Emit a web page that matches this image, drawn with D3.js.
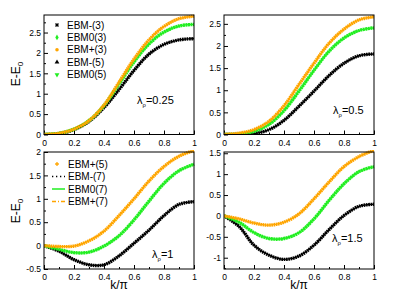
<!DOCTYPE html>
<html>
<head>
  <meta charset="utf-8">
  <title>EBM dispersion</title>
  <style>
    body { margin: 0; background: #fff; }
    svg { display: block; }
    text { font-family: "Liberation Sans", Arial, sans-serif; fill: #000; }
    .tick text { font-size: 8.5px; }
    .tick line { stroke: #000; }
  </style>
</head>
<body>
  <script src="https://d3js.org/d3.v7.min.js"></script>
  <script>
    // k/pi grid
    const kVals = [0, 0.1, 0.2, 0.3, 0.4, 0.5, 0.6, 0.7, 0.8, 0.9, 1.0];
    const xTicks = [0, 0.2, 0.4, 0.6, 0.8, 1];

    // lambda = 0.25
    const p1Plus  = [0, 0.03, 0.13, 0.34, 0.72, 1.28, 1.85, 2.32, 2.65, 2.84, 2.90];
    const p1Zero  = [0, 0.03, 0.13, 0.34, 0.71, 1.24, 1.78, 2.22, 2.51, 2.66, 2.70];
    const p1Minus = [0, 0.02, 0.12, 0.32, 0.66, 1.10, 1.57, 1.97, 2.21, 2.32, 2.35];
    // lambda = 0.5
    const p2Plus  = [0, 0.03, 0.11, 0.30, 0.65, 1.13, 1.61, 2.06, 2.38, 2.59, 2.66];
    const p2Zero  = [0, 0.01, 0.07, 0.23, 0.54, 0.98, 1.45, 1.88, 2.18, 2.35, 2.41];
    const p2Minus = [0, 0.00, 0.02, 0.11, 0.32, 0.64, 0.98, 1.33, 1.61, 1.78, 1.82];
    // lambda = 1
    const p3Plus  = [0, -0.02, -0.01, 0.10, 0.31, 0.64, 1.00, 1.38, 1.69, 1.91, 2.03];
    const p3Zero  = [0, -0.08, -0.15, -0.14, -0.01, 0.21, 0.55, 0.95, 1.33, 1.60, 1.74];
    const p3Minus = [0, -0.12, -0.30, -0.41, -0.41, -0.22, 0.05, 0.33, 0.64, 0.88, 0.94];
    // lambda = 1.5
    const p4Plus  = [0, -0.07, -0.17, -0.22, -0.15, 0.05, 0.41, 0.81, 1.18, 1.42, 1.57];
    const p4Zero  = [0, -0.15, -0.40, -0.54, -0.54, -0.40, -0.07, 0.37, 0.77, 1.06, 1.18];
    const p4Minus = [0, -0.25, -0.70, -0.94, -1.04, -0.96, -0.70, -0.33, 0.01, 0.23, 0.28];

    const legendTop = ["EBM-(3)", "EBM0(3)", "EBM+(3)", "EBM-(5)", "EBM0(5)"];
    const legendBottom = ["EBM+(5)", "EBM-(7)", "EBM0(7)", "EBM+(7)"];

    const orange = "#ffa500", green = "#22ee22", black = "#000";

    const svg = d3.select("body").append("svg").attr("width", 411).attr("height", 291);

    const panels = [
      { x0: 44, x1: 194, y0: 15, y1: 134.5, ymin: 0, ymax: 2.93, yTicks: [0, 0.5, 1, 1.5, 2, 2.5],
        plus: p1Plus, zero: p1Zero, minus: p1Minus, lam: "0.25", lx: 137, ly: 104 },
      { x0: 224, x1: 374, y0: 15, y1: 134.5, ymin: 0, ymax: 2.7, yTicks: [0, 0.5, 1, 1.5, 2, 2.5],
        plus: p2Plus, zero: p2Zero, minus: p2Minus, lam: "0.5", lx: 333, ly: 114 },
      { x0: 44, x1: 194, y0: 152, y1: 269, ymin: -0.5, ymax: 2.0, yTicks: [-0.5, 0, 0.5, 1, 1.5, 2],
        plus: p3Plus, zero: p3Zero, minus: p3Minus, lam: "1", lx: 152, ly: 258 },
      { x0: 224, x1: 374, y0: 152, y1: 269, ymin: -1.27, ymax: 1.53, yTicks: [-1, -0.5, 0, 0.5, 1, 1.5],
        plus: p4Plus, zero: p4Zero, minus: p4Minus, lam: "1.5", lx: 332, ly: 242 }
    ];

    const fmt = d => String(+d.toFixed(2));

    panels.forEach(p => {
      const x = d3.scaleLinear().domain([0, 1]).range([p.x0, p.x1]);
      const y = d3.scaleLinear().domain([p.ymin, p.ymax]).range([p.y1, p.y0]);

      const clipId = "clip" + p.x0 + "_" + p.y0;
      svg.append("clipPath").attr("id", clipId)
        .append("rect").attr("x", p.x0).attr("y", p.y0 - 2)
        .attr("width", p.x1 - p.x0 + 2).attr("height", p.y1 - p.y0 + 2);

      // minor ticks
      const xMinor = d3.range(0.1, 1, 0.2);
      const yStep = 0.25;
      const yMinor = d3.range(Math.ceil(p.ymin / yStep) * yStep, p.ymax, yStep)
        .filter(v => Math.abs(v / 0.5 - Math.round(v / 0.5)) > 1e-6);

      const gx = svg.append("g").attr("transform", `translate(0,${p.y1})`)
        .call(d3.axisBottom(x).tickValues(xTicks).tickFormat(fmt).tickSize(-4).tickPadding(5));
      gx.select(".domain").remove();
      svg.append("g").attr("transform", `translate(0,${p.y1})`)
        .call(d3.axisBottom(x).tickValues(xMinor).tickFormat("").tickSize(-2))
        .select(".domain").remove();

      const gy = svg.append("g").attr("transform", `translate(${p.x0},0)`)
        .call(d3.axisLeft(y).tickValues(p.yTicks).tickFormat(fmt).tickSize(-4).tickPadding(3));
      gy.select(".domain").remove();
      svg.append("g").attr("transform", `translate(${p.x0},0)`)
        .call(d3.axisLeft(y).tickValues(yMinor).tickFormat("").tickSize(-2))
        .select(".domain").remove();

      svg.selectAll(null); // keep chain simple
      svg.selectAll(".tick text").attr("font-size", 8.5);

      const line = d3.line().x((d, i) => x(kVals[i])).y(d => y(d)).curve(d3.curveCatmullRom);
      const g = svg.append("g").attr("clip-path", `url(#${clipId})`);
      [[p.minus, black, "1.6 0.7"], [p.zero, green, "2 0.5"], [p.plus, orange, "1.6 0.6"]].forEach(([vals, col, dash]) => {
        g.append("path").attr("d", line(vals))
          .attr("fill", "none").attr("stroke", col)
          .attr("stroke-width", 3.4).attr("stroke-dasharray", dash);
        g.append("path").attr("d", line(vals))
          .attr("fill", "none").attr("stroke", col).attr("stroke-width", 1.4);
      });

      svg.append("rect").attr("x", p.x0).attr("y", p.y0)
        .attr("width", p.x1 - p.x0).attr("height", p.y1 - p.y0)
        .attr("fill", "none").attr("stroke", "#000").attr("stroke-width", 1);

      const lt = svg.append("text").attr("x", p.lx).attr("y", p.ly).attr("font-size", 11);
      lt.append("tspan").text("λ");
      lt.append("tspan").attr("font-size", 6).attr("dy", 3).text("ρ");
      lt.append("tspan").attr("dy", -3).text("=" + p.lam);
    });

    // y labels
    [74, 211].forEach(cy => {
      const t = svg.append("text").attr("transform", `translate(20,${cy}) rotate(-90)`)
        .attr("text-anchor", "middle").attr("font-size", 12);
      t.append("tspan").text("E-E");
      t.append("tspan").attr("font-size", 8).attr("dy", 3).text("0");
    });
    // x labels
    [119, 299].forEach(cx => {
      svg.append("text").attr("x", cx).attr("y", 289).attr("text-anchor", "middle")
        .attr("font-size", 12).text("k/π");
    });

    // legend, top-left panel
    const ltop = svg.append("g");
    const topRowY = d => 25 + d * 12.4;
    const topMarks = [
      (g, cy) => g.append("path").attr("d", d3.symbol(d3.symbolCross, 10)()).attr("transform", `translate(57,${cy}) rotate(45)`).attr("fill", black),
      (g, cy) => g.append("path").attr("d", d3.symbol(d3.symbolDiamond, 10)()).attr("transform", `translate(57,${cy})`).attr("fill", green),
      (g, cy) => g.append("path").attr("d", d3.symbol(d3.symbolCircle, 10)()).attr("transform", `translate(57,${cy})`).attr("fill", orange),
      (g, cy) => g.append("path").attr("d", d3.symbol(d3.symbolTriangle, 10)()).attr("transform", `translate(57,${cy})`).attr("fill", black),
      (g, cy) => g.append("path").attr("d", d3.symbol(d3.symbolTriangle, 10)()).attr("transform", `translate(57,${cy}) rotate(180)`).attr("fill", green)
    ];
    legendTop.forEach((name, i) => {
      topMarks[i](ltop, topRowY(i));
      ltop.append("text").attr("x", 67).attr("y", topRowY(i) + 3.6).attr("font-size", 10).text(name);
    });

    // legend, bottom-left panel
    const lbot = svg.append("g");
    const botRowY = d => 164 + d * 12.5;
    legendBottom.forEach((name, i) => {
      const cy = botRowY(i);
      if (i === 0) {
        lbot.append("path").attr("d", d3.symbol(d3.symbolCross, 8)()).attr("transform", `translate(57,${cy})`).attr("fill", orange);
      } else if (i === 1) {
        lbot.append("line").attr("x1", 52).attr("x2", 65).attr("y1", cy).attr("y2", cy)
          .attr("stroke", black).attr("stroke-width", 1.5).attr("stroke-dasharray", "1.3 2.7");
      } else if (i === 2) {
        lbot.append("line").attr("x1", 52).attr("x2", 65).attr("y1", cy).attr("y2", cy)
          .attr("stroke", green).attr("stroke-width", 1.5);
      } else {
        lbot.append("line").attr("x1", 52).attr("x2", 65).attr("y1", cy).attr("y2", cy)
          .attr("stroke", orange).attr("stroke-width", 1.5).attr("stroke-dasharray", "4 2 1 2");
      }
      lbot.append("text").attr("x", 68).attr("y", cy + 3.6).attr("font-size", 10).text(name);
    });
  </script>
</body>
</html>
